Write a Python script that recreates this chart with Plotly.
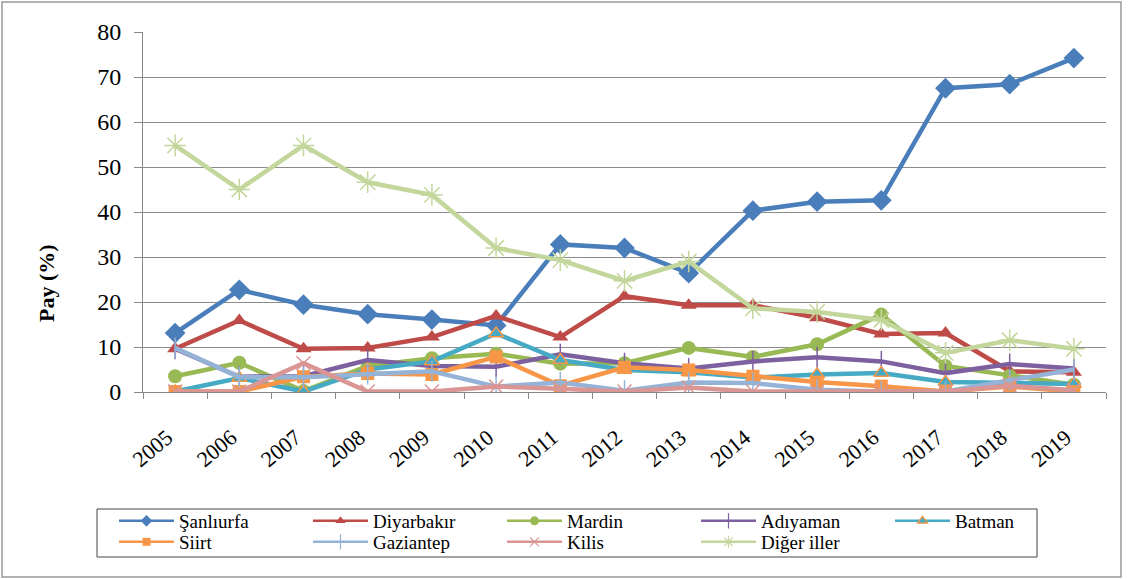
import plotly.graph_objects as go

years = [str(y) for y in range(2005, 2020)]

sanliurfa  = [13.1, 22.7, 19.4, 17.3, 16.1, 14.8, 32.8, 32.0, 26.4, 40.3, 42.3, 42.6, 67.5, 68.4, 74.2]
diyarbakir = [9.6, 15.9, 9.6, 9.8, 12.2, 16.9, 12.2, 21.3, 19.3, 19.3, 16.5, 12.9, 13.1, 4.6, 4.4]
mardin     = [3.5, 6.5, 0.2, 5.8, 7.5, 8.5, 6.3, 6.4, 9.8, 7.8, 10.6, 17.2, 5.8, 3.6, 1.6]
adiyaman   = [9.6, 3.4, 3.5, 7.1, 5.8, 5.6, 8.4, 6.4, 5.2, 6.8, 7.7, 6.8, 4.2, 6.2, 5.2]
batman     = [0.1, 3.1, 0.1, 5.0, 6.8, 13.0, 7.1, 4.9, 4.4, 3.2, 3.9, 4.2, 2.2, 2.1, 1.8]
siirt      = [0.1, 0.1, 3.4, 4.1, 3.9, 7.8, 1.4, 5.5, 4.9, 3.5, 2.2, 1.3, 0.1, 1.2, 0.1]
gaziantep  = [9.8, 3.3, 3.3, 4.0, 4.6, 1.2, 2.1, 0.3, 2.1, 2.0, 0.5, 0.1, 0.1, 2.6, 5.0]
kilis      = [0.1, 0.1, 6.4, 0.1, 0.1, 1.2, 0.7, 0.1, 1.0, 0.1, 0.1, 0.1, 0.1, 1.4, 0.4]
diger      = [54.8, 45.0, 54.8, 46.6, 43.8, 32.0, 29.3, 24.7, 29.0, 18.6, 17.8, 16.0, 8.7, 11.5, 9.6]

series = [
    ("Şanlıurfa", sanliurfa, "#4A7EBB", "diamond", 16, None, 9, "legend"),
    ("Diyarbakır", diyarbakir, "#BE4B48", "triangle-up", 14, None, 9, "legend"),
    ("Mardin", mardin, "#98B954", "circle", 14, None, 9, "legend"),
    ("Adıyaman", adiyaman, "#7D60A0", "line-ns", 15, "#7D60A0", 11, "legend"),
    ("Batman", batman, "#46AAC5", "triangle-up", 13, "#F79646", 9, "legend"),
    ("Siirt", siirt, "#F79646", "square", 13, None, 8, "legend2"),
    ("Gaziantep", gaziantep, "#95B3D7", "line-ns", 15, "#95B3D7", 11, "legend2"),
    ("Kilis", kilis, "#D99694", "x-thin", 14, "#D99694", 9, "legend2"),
    ("Diğer iller", diger, "#C3D69B", "asterisk", 18, "#C3D69B", 10, "legend2"),
]

fig = go.Figure()
for name, vals, col, sym, size, lc, lsize, lg in series:
    mline = dict(width=1.5, color=lc) if lc else dict(width=0)
    fig.add_trace(go.Scatter(
        x=years, y=vals, name=name, mode="lines+markers", showlegend=False,
        line=dict(color=col, width=4.5),
        marker=dict(symbol=sym, size=size, color=col, line=mline),
    ))
for name, vals, col, sym, size, lc, lsize, lg in series:
    mline = dict(width=1.2, color=lc) if lc else dict(width=0)
    fig.add_trace(go.Scatter(
        x=[None], y=[None], name=name, mode="lines+markers", showlegend=True,
        legend=lg,
        line=dict(color=col, width=2.5),
        marker=dict(symbol=sym, size=lsize, color=col, line=mline),
    ))

W, H = 1129, 579
L, R, T, B = 143, 23, 32, 187
pw, ph = W - L - R, H - T - B

def px_x(x):
    return (x - L) / pw

def px_y(y):
    return (H - B - y) / ph

serif = "Liberation Serif, Times New Roman, serif"
leg_common = dict(
    orientation="h", xanchor="left", yanchor="top",
    font=dict(family=serif, size=19, color="black"),
    borderwidth=0, bgcolor="rgba(0,0,0,0)",
    entrywidth=124, entrywidthmode="pixels", itemwidth=55,
    tracegroupgap=0, traceorder="normal",
)
fig.update_layout(
    width=W, height=H,
    margin=dict(l=L, r=R, t=T, b=B, autoexpand=False),
    paper_bgcolor="white", plot_bgcolor="white",
    font=dict(family=serif, color="black"),
    showlegend=True,
    legend=dict(leg_common, x=px_x(114), y=px_y(502)),
    legend2=dict(leg_common, x=px_x(114), y=px_y(523)),
    xaxis=dict(
        type="category", tickangle=-40, tickson="boundaries",
        ticks="outside", ticklen=6, tickcolor="#888",
        showline=True, linecolor="#888", linewidth=1,
        showgrid=False, tickfont=dict(family=serif, size=22, color="black"),
        range=[-0.5, 14.5], ticklabelstandoff=23, ticklabelshift=-8,
    ),
    yaxis=dict(
        range=[0, 80], dtick=10, showgrid=True, gridcolor="#8c8c8c", gridwidth=1,
        ticks="outside", ticklen=8, tickcolor="#888",
        showline=True, linecolor="#888", linewidth=1,
        tickfont=dict(family=serif, size=24, color="black"),
        zeroline=False, ticklabelstandoff=8,
    ),
    annotations=[dict(
        text="<b>Pay (%)</b>", xref="paper", yref="paper",
        x=px_x(46), y=px_y(283), xanchor="center", yanchor="middle",
        textangle=-90, showarrow=False,
        font=dict(family=serif, size=22, color="black"),
    )],
    shapes=[
        dict(type="rect", xref="paper", yref="paper",
             x0=px_x(2), x1=px_x(1121), y0=px_y(577), y1=px_y(2),
             line=dict(color="#999", width=1.5), layer="below"),
        dict(type="rect", xref="paper", yref="paper",
             x0=px_x(97), x1=px_x(1037), y0=px_y(557), y1=px_y(509),
             line=dict(color="#444", width=1), layer="below"),
    ],
)

fig.write_html("out.html", config={"displayModeBar": False},
               post_script="document.body.style.margin='0';")
